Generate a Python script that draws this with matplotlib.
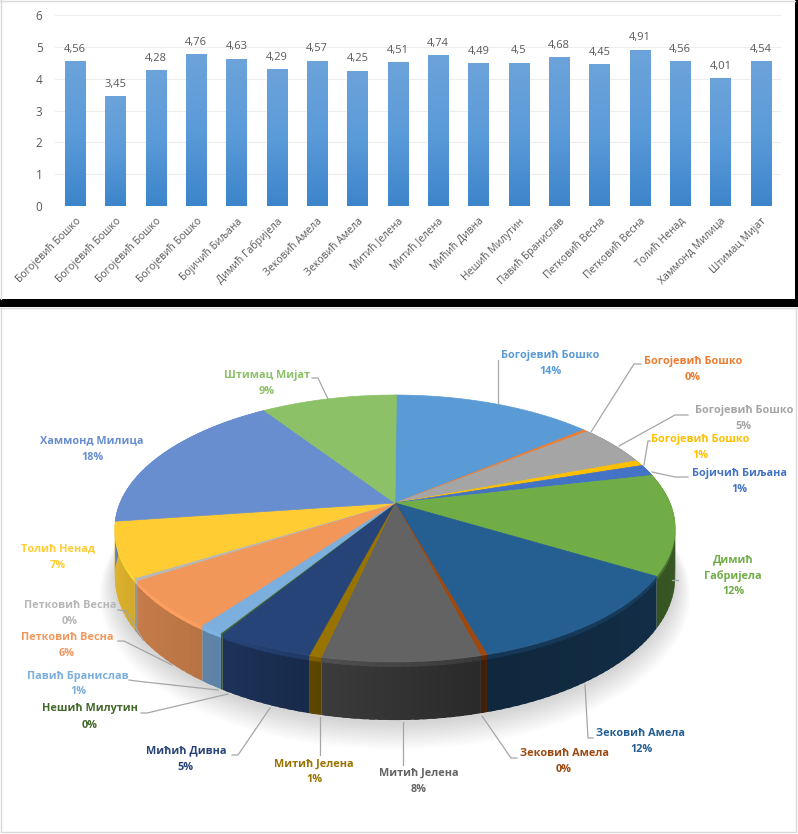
import numpy as np
import matplotlib
matplotlib.use('Agg')
import matplotlib.pyplot as plt
from matplotlib.colors import to_rgb, LinearSegmentedColormap

plt.rcParams['font.family'] = ['Open Sans', 'Noto Sans', 'DejaVu Sans']

# top chart
names = ['Богојевић Бошко', 'Богојевић Бошко', 'Богојевић Бошко', 'Богојевић Бошко',
	'Бојичић Биљана', 'Димић Габријела', 'Зековић Амела', 'Зековић Амела',
	'Митић Јелена', 'Митић Јелена', 'Мићић Дивна', 'Нешић Милутин',
	'Павић Бранислав', 'Петковић Весна', 'Петковић Весна', 'Толић Ненад',
	'Хаммонд Милица', 'Штимац Мијат']
grades = [4.56, 3.45, 4.28, 4.76, 4.63, 4.29, 4.57, 4.25, 4.51, 4.74, 4.49, 4.5, 4.68, 4.45, 4.91, 4.56, 4.01, 4.54]

# pie, share of each slice in percent
shares = [14.0, 0.3, 5.0, 0.7, 1.4, 12.2, 12.0, 0.3, 7.6, 0.6, 4.7, 0.1, 1.2, 5.8, 0.3, 6.6, 17.9, 9.4]
colors = ['#5B9BD5', '#ED7D31', '#A5A5A5', '#FFC000', '#4472C4', '#70AD47', '#255E91', '#9E480E', '#636363',
	'#997300', '#264478', '#43682B', '#7CAFDD', '#F1975A', '#B7B7B7', '#FFCD33', '#698ED0', '#8CC168']

W, H = 798, 834
fig = plt.figure(figsize=(W/100, H/100), dpi=100, facecolor='white')

# full figure axes in pixels, holds the pie and the frame
pa = fig.add_axes([0, 0, 1, 1])
pa.set_xlim(0, W)
pa.set_ylim(H, 0)
pa.axis('off')

# ---- bars
ax = fig.add_axes([55/W, 1-206/H, (781-55)/W, (206-15)/H], facecolor='none')
xs = np.arange(len(grades))
bars = ax.bar(xs, grades, width=0.5, color='#5B9BD5', zorder=2)
cmap = LinearSegmentedColormap.from_list('b', ['#6CA3DA', '#5B9BD9', '#3D85CB'])
for b in bars:
	im = ax.imshow(np.linspace(0, 1, 64).reshape(-1, 1), cmap=cmap, aspect='auto', zorder=3,
		extent=(b.get_x(), b.get_x()+b.get_width(), 0, b.get_height()), origin='upper')
	im.set_clip_path(b)
for x, g in zip(xs, grades):
	ax.annotate(str(g).replace('.', ','), (x, g), xytext=(0, 4.5), textcoords='offset points',
		ha='center', va='bottom', fontsize=8, color='#595959')
ax.set_xlim(-0.5, 17.5)
ax.set_ylim(0, 6)
ax.set_yticks(range(7))
ax.grid(axis='y', color='#EDEDED', lw=0.8, zorder=0)
ax.set_axisbelow(True)
for s in ax.spines.values():
	s.set_visible(False)
ax.tick_params(length=0, labelcolor='#595959')
ax.tick_params(axis='y', labelsize=8.5, pad=9)
ax.set_xticks(xs)
ax.set_xticklabels(names, rotation=45, ha='right', rotation_mode='anchor', fontsize=7.5, color='#595959')
ax.tick_params(axis='x', pad=7)

# ---- pie, perspective of a flat disc
cx, cy = 395, 503
Rx, Ry, k, depth = 275, 128.6, 0.191, 47

def project(theta, r=1.0, drop=0.0):
	x = r*np.sin(theta)
	y = r*np.cos(theta)
	s = 1/(1+k*y)
	return cx+Rx*x*s, cy-Ry*y*s+drop*s

def wall_shade(theta):
	return np.interp(np.degrees(theta), [60, 110, 165, 190, 212, 240, 265, 300],
		[0.5, 0.5, 0.42, 0.58, 0.75, 0.83, 0.9, 0.9])

edges = np.radians(np.concatenate([[0], np.cumsum(shares)])*3.6)

# soft shadow under the disc
th = np.linspace(0, 2*np.pi, 240)
for i in range(14):
	sx, sy = project(th, 1+i*0.004, depth+3+i*0.9)
	pa.fill(sx, sy, color='black', alpha=0.012, lw=0, zorder=1)

# side wall, thin strips so it can change tone round the rim
for a, b, c in zip(edges[:-1], edges[1:], colors):
	if b < np.radians(60) or a > np.radians(300):
		continue
	n = max(2, int((b-a)/np.radians(1.5)))
	grid = np.linspace(a, b, n+1)
	step = grid[1]-grid[0]
	rgb = np.array(to_rgb(c))
	for t0 in grid[:-1]:
		# each strip runs on under the next one, no seams then
		tt = np.linspace(t0, min(t0+step*1.6, b), 4)
		shade = wall_shade(t0+step/2)
		x0, y0 = project(tt, 1, 0)
		x1, y1 = project(tt[::-1], 1, depth)
		pa.fill(np.r_[x0, x1], np.r_[y0, y1], color=tuple(rgb*shade), lw=0, zorder=2)
		# lighter band under the rim
		x2, y2 = project(tt[::-1], 1, 4)
		col2 = tuple(np.clip(rgb*min(shade*1.35, 1.05), 0, 1))
		pa.fill(np.r_[x0, x2], np.r_[y0, y2], color=col2, lw=0, zorder=2.5)

# top face
for a, b, c in zip(edges[:-1], edges[1:], colors):
	tt = np.linspace(a, b, max(3, int((b-a)/np.radians(1))+2))
	x, y = project(tt)
	pa.fill(np.r_[cx, x], np.r_[cy, y], color=c, lw=0.5, zorder=3)

# ---- labels, one per slice
label_text = list(names)
label_text[5] = 'Димић\nГабријела'
pct = [f'{round(s)}%' for s in shares]
label_xy = [(550, 355), (693, 361), (744, 410), (700, 439), (739, 473), (733, 560), (641, 734), (564, 754), (419, 773),
	(314, 764), (186, 751), (90, 709), (78, 676), (67, 637), (70, 606), (58, 549), (92, 441), (267, 375)]

for t, p, xy, c in zip(label_text, pct, label_xy, colors):
	lines = t.split('\n') + [p]
	for i, line in enumerate(lines):
		pa.text(xy[0], xy[1]+i*16, line, ha='center', va='center', fontsize=7.8, fontweight='bold',
			color=c, zorder=6)

leaders = [[(498, 360), (498, 403)], [(641, 364), (634, 364), (591, 432)], [(688, 415), (675, 415), (619, 446)],
	[(650, 441), (648, 441), (644, 465)], [(688, 477), (675, 477), (652, 472)], [(672, 580), (678, 580)],
	[(593, 738), (588, 738), (585, 685)], [(517, 758), (511, 758), (482, 716)], [(403, 765), (403, 722)],
	[(320, 755), (320, 717)], [(232, 755), (238, 755), (270, 708)], [(141, 713), (147, 713), (228, 694)],
	[(129, 680), (136, 681), (218, 690)], [(118, 641), (124, 641), (172, 665)], [(118, 610), (126, 611), (143, 640)],
	[(312, 378), (318, 378), (328, 399)]]
for seg in leaders:
	seg = np.array(seg)
	pa.plot(seg[:, 0], seg[:, 1], color='#A6A6A6', lw=0.9, zorder=5)

# ---- frame
pa.fill([0, W, W, 0], [299, 299, 307, 307], color='black', lw=0, zorder=7)
pa.fill([795, W, W, 795], [0, 0, 299, 299], color='black', lw=0, zorder=7)
pa.plot([1, 1], [0, 299], color='#D9D9D9', lw=1, zorder=7)
pa.plot([0, 795], [1, 1], color='#D9D9D9', lw=1, zorder=7)
pa.plot([1, 1, 796, 796], [308, 832, 832, 308], color='#D9D9D9', lw=1, zorder=7)
pa.plot([0, W], [308, 308], color='#D9D9D9', lw=1, zorder=7)

fig.savefig('out.png', dpi=100)
